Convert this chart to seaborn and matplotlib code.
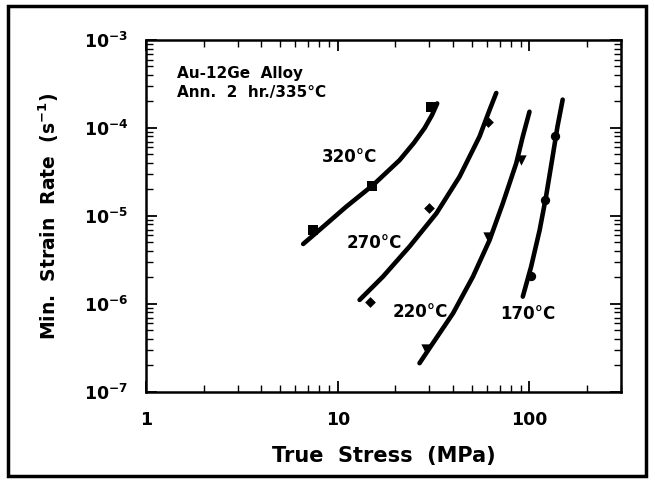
import matplotlib
matplotlib.use('Agg')
import matplotlib.pyplot as plt
import seaborn as sns
import pandas as pd
from matplotlib.patches import Rectangle
from matplotlib.ticker import LogLocator, NullFormatter

# ---- data ----
temps = ['320°C', '270°C', '220°C', '170°C']
markers = ['s', 'D', 'v', 'o']

# measured points (stress MPa, min strain rate 1/s)
stress_320 = [7.4, 15.0, 30.8]
rate_320 = [6.9e-6, 2.2e-5, 1.75e-4]
stress_270 = [14.7, 29.8, 60.6]
rate_270 = [1.06e-6, 1.24e-5, 1.18e-4]
stress_220 = [29.0, 60.6, 90.5]
rate_220 = [3.1e-7, 5.8e-6, 4.3e-5]
stress_170 = [102.0, 120.0, 136.6]
rate_170 = [2.1e-6, 1.52e-5, 8.1e-5]

# fitted curves
curve_stress_320 = [6.6, 8.4, 11.1, 15.3, 21.0, 25.0, 28.4, 31.0, 33.0]
curve_rate_320 = [4.8e-6, 7.55e-6, 1.28e-5, 2.25e-5, 4.3e-5, 6.8e-5, 1.0e-4, 1.4e-4, 1.9e-4]
curve_stress_270 = [13.0, 17.2, 23.7, 32.7, 43.2, 54.9, 61.9, 67.1]
curve_rate_270 = [1.11e-6, 2.04e-6, 4.5e-6, 1.07e-5, 2.8e-5, 8.0e-5, 1.6e-4, 2.5e-4]
curve_stress_220 = [26.7, 31.4, 39.9, 50.7, 61.9, 72.6, 85.3, 92.3, 100.0]
curve_rate_220 = [2.12e-7, 3.6e-7, 7.8e-7, 2.04e-6, 5.3e-6, 1.39e-5, 3.97e-5, 8.0e-5, 1.53e-4]
curve_stress_170 = [92.3, 102.0, 113.0, 122.0, 132.0, 140.0, 149.0]
curve_rate_170 = [1.21e-6, 2.65e-6, 6.9e-6, 1.66e-5, 4.7e-5, 1.04e-4, 2.1e-4]

xtick_vals = [1, 10, 100]
xtick_labels = ['1', '10', '100']
ytick_vals = [1e-7, 1e-6, 1e-5, 1e-4, 1e-3]
ytick_labels = [r'$10^{-7}$', r'$10^{-6}$', r'$10^{-5}$', r'$10^{-4}$', r'$10^{-3}$']

note_lines = ['Au-12Ge  Alloy', 'Ann.  2  hr./335°C']
xlabel = 'True  Stress  (MPa)'
ylabel = r'Min.  Strain  Rate  (s$^{-1}$)'

# ---- build tables ----
pts = pd.concat([
    pd.DataFrame({'stress': s, 'rate': r, 'T': t})
    for s, r, t in zip([stress_320, stress_270, stress_220, stress_170],
                       [rate_320, rate_270, rate_220, rate_170], temps)
])
curves = pd.concat([
    pd.DataFrame({'stress': s, 'rate': r, 'T': t})
    for s, r, t in zip([curve_stress_320, curve_stress_270, curve_stress_220, curve_stress_170],
                       [curve_rate_320, curve_rate_270, curve_rate_220, curve_rate_170], temps)
])

# ---- style ----
sns.set_style('ticks')
plt.rcParams['font.family'] = ['DejaVu Sans']
plt.rcParams['font.weight'] = 'bold'
plt.rcParams['text.color'] = 'black'
plt.rcParams['axes.labelcolor'] = 'black'
plt.rcParams['xtick.color'] = 'black'
plt.rcParams['ytick.color'] = 'black'
plt.rcParams['xtick.labelcolor'] = 'black'
plt.rcParams['ytick.labelcolor'] = 'black'
plt.rcParams['mathtext.fontset'] = 'custom'
plt.rcParams['mathtext.rm'] = 'DejaVu Sans:bold'
plt.rcParams['mathtext.it'] = 'DejaVu Sans:bold'
plt.rcParams['mathtext.bf'] = 'DejaVu Sans:bold'

fig = plt.figure(figsize=(6.55, 4.82), dpi=100)
ax = fig.add_axes([0.223, 0.187, 0.725, 0.730])
ax.set_xscale('log')
ax.set_yscale('log')

for t in temps:
    sub = curves[curves['T'] == t]
    sns.lineplot(data=sub, x='stress', y='rate', sort=False, estimator=None,
                 color='black', lw=3.3, ax=ax, legend=False,
                 solid_capstyle='round', solid_joinstyle='round')

msizes = {'s': 60, 'D': 30, 'v': 55, 'o': 45}
for t, m in zip(temps, markers):
    sub = pts[pts['T'] == t]
    sns.scatterplot(data=sub, x='stress', y='rate', marker=m, s=msizes[m],
                    color='black', edgecolor='black', linewidth=0, ax=ax,
                    legend=False, zorder=3)

ax.set_xlim(1, 300)
ax.set_ylim(1e-7, 1e-3)
ax.set_xticks(xtick_vals)
ax.set_xticklabels(xtick_labels)
ax.set_yticks(ytick_vals)
ax.set_yticklabels(ytick_labels)
ax.xaxis.set_minor_locator(LogLocator(base=10, subs=range(2, 10), numticks=20))
ax.yaxis.set_minor_locator(LogLocator(base=10, subs=range(2, 10), numticks=20))
ax.xaxis.set_minor_formatter(NullFormatter())
ax.yaxis.set_minor_formatter(NullFormatter())
ax.tick_params(which='both', direction='in', top=True, right=True,
               color='black', labelcolor='black')
ax.tick_params(which='major', length=8, width=1.3, labelsize=12.5)
ax.tick_params(axis='x', which='major', pad=14)
ax.tick_params(axis='y', which='major', pad=13)
ax.tick_params(which='minor', length=5, width=1.0)
for sp in ax.spines.values():
    sp.set_linewidth(1.8)
    sp.set_color('black')

ax.set_xlabel(xlabel, fontsize=15, fontweight='bold', labelpad=12, color='black')
ax.set_ylabel(ylabel, fontsize=13.5, fontweight='bold', labelpad=16, color='black')

ax.text(0.065, 0.906, note_lines[0], transform=ax.transAxes, fontsize=11,
        fontweight='bold', va='center', ha='left', color='black')
ax.text(0.065, 0.852, note_lines[1], transform=ax.transAxes, fontsize=11,
        fontweight='bold', va='center', ha='left', color='black')

label_pos = {'320°C': (11.5, 4.7e-5), '270°C': (15.6, 4.9e-6),
             '220°C': (27.1, 8.1e-7), '170°C': (97.7, 7.7e-7)}
for t in temps:
    x, y = label_pos[t]
    ax.text(x, y, t, fontsize=12, fontweight='bold', ha='center', va='center',
            color='black')

fig.patches.append(Rectangle((8 / 655, 6 / 482), 638 / 655, 470 / 482,
                             transform=fig.transFigure, fill=False,
                             lw=2.5, ec='black'))

fig.savefig('out.png', dpi=100)
